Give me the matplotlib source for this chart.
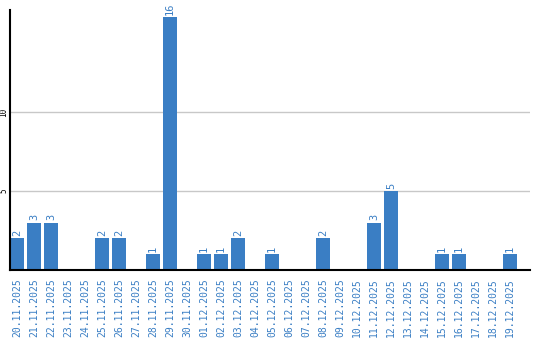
import matplotlib
matplotlib.use("Agg")
import matplotlib.pyplot as plt
import numpy as np

dates = ["20.11.2025", "21.11.2025", "22.11.2025", "23.11.2025", "24.11.2025",
         "25.11.2025", "26.11.2025", "27.11.2025", "28.11.2025", "29.11.2025",
         "30.11.2025", "01.12.2025", "02.12.2025", "03.12.2025", "04.12.2025",
         "05.12.2025", "06.12.2025", "07.12.2025", "08.12.2025", "09.12.2025",
         "10.12.2025", "11.12.2025", "12.12.2025", "13.12.2025", "14.12.2025",
         "15.12.2025", "16.12.2025", "17.12.2025", "18.12.2025", "19.12.2025"]
counts = [2, 3, 3, 0, 0, 2, 2, 0, 1, 16, 0, 1, 1, 2, 0, 1, 0, 0, 2, 0,
          0, 3, 5, 0, 0, 1, 1, 0, 0, 1]
yticks = [5, 10]

W, H = 540, 340
fig = plt.figure(figsize=(W / 100, H / 100), dpi=100)
ax = fig.add_axes([10 / W, (H - 270) / H, 520 / W, 260 / H])

blue = "#3a7ec4"
bw = 14 / 17
x = np.arange(len(dates))
ax.bar(x, counts, width=bw, align="edge", color=blue, zorder=2)
ax.set_xlim(0, 520 / 17)
ax.set_ylim(0, 260 / 15.8)

ax.set_yticks(yticks)
ax.set_yticklabels([str(v) for v in yticks], rotation=90, va="center",
                   family="DejaVu Sans Mono", fontsize=5.5)
ax.yaxis.grid(True, color="#c8c8c8", linewidth=1, zorder=0)
ax.tick_params(axis="y", length=0, pad=1)

ax.set_xticks(x + bw / 2)
ax.set_xticklabels(dates, rotation=90, color=blue, family="DejaVu Sans Mono",
                   fontsize=7)
ax.tick_params(axis="x", length=0, pad=6)

for xi, c in zip(x, counts):
    if c > 0:
        ax.text(xi + bw / 2, c + 0.15, str(c), rotation=90, ha="center",
                va="bottom", color=blue, family="DejaVu Sans Mono", fontsize=7.5)

for s in ["top", "right"]:
    ax.spines[s].set_visible(False)
ax.spines["left"].set_color("black")
ax.spines["bottom"].set_color("black")
ax.spines["left"].set_linewidth(1.5)
ax.spines["bottom"].set_linewidth(1.5)

fig.savefig("out.png", dpi=100)
